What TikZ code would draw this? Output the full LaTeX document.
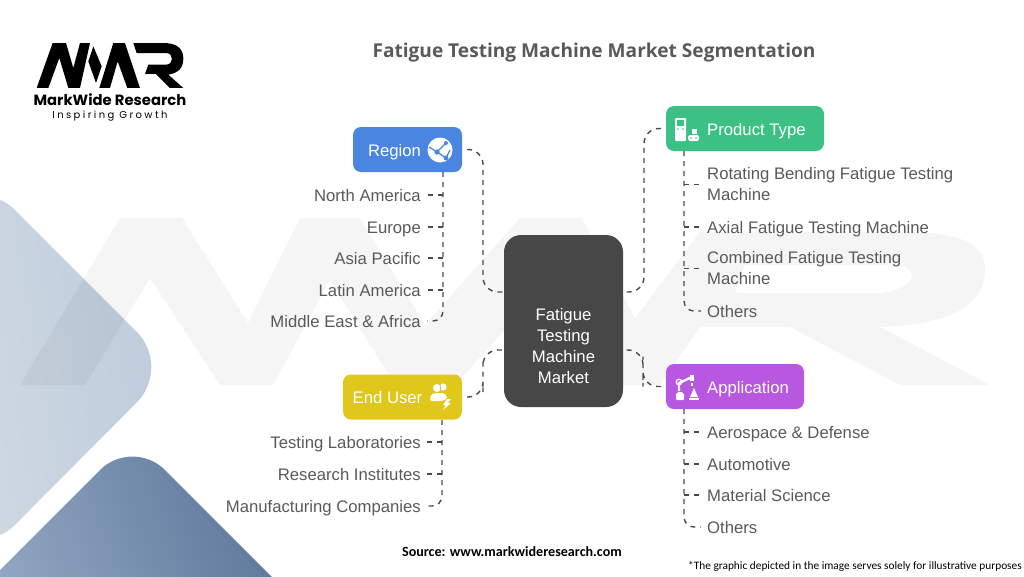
\documentclass[tikz,border=0pt]{standalone}
\usepackage{fontspec}
\setmainfont{Liberation Sans}
\newfontfamily\titlefont{Open Sans}
\newfontfamily\notefont{Carlito}
\newfontfamily\brandfont{Poppins}
\newfontfamily\taglinefont[LetterSpace=24]{Poppins}
\usetikzlibrary{positioning,calc}
\definecolor{hubgray}{HTML}{474747}
\definecolor{regionblue}{HTML}{4A86E0}
\definecolor{productgreen}{HTML}{3DC083}
\definecolor{useryellow}{HTML}{DFC71C}
\definecolor{applypurple}{HTML}{B857E0}
\definecolor{leafgray}{HTML}{595959}
\definecolor{linkgray}{HTML}{4A4A4A}
\tikzset{
	branchbox/.style={rounded corners=8pt, minimum height=45pt, inner sep=0pt, outer sep=0pt},
	branchtext/.style={text=white, inner sep=0pt, text height=15pt, text depth=3pt, font=\fontsize{16.7}{21}\selectfont},
	leafleft/.style={text=leafgray, anchor=east, inner sep=0pt, text height=15pt, text depth=3pt, font=\fontsize{16.7}{21}\selectfont},
	leafright/.style={text=leafgray, anchor=west, inner sep=0pt, text height=15pt, text depth=3pt, align=left, font=\fontsize{16.7}{21}\selectfont},
	leafwrap/.style={text height=, text depth=},
	linkline/.style={draw=linkgray, line width=1.4pt, dash pattern=on 5pt off 5pt},
	hublink/.style={linkline, rounded corners=15pt},
	trunkline/.style={linkline, rounded corners=10pt}
}
\newcommand{\leafleftitem}[4]{
	\node [leafleft] (#1) at (421,#3) {#4};
	\draw [linkline, shorten >=6pt] (#2 |- #1.east) -- (#1.east);
}
\newcommand{\leafrightitem}[5][]{
	\node [leafright, #1] (#2) at (707,#4) {#5};
	\draw [linkline, shorten >=6pt] (#3 |- #2.west) -- (#2.west);
}

\begin{document}
\begin{tikzpicture}[x=1pt,y=-1pt]
	\useasboundingbox (0,0) rectangle (1024,576);

	% corner shapes
	\shade [left color={rgb,255:red,206;green,216;blue,226}, right color={rgb,255:red,188;green,203;blue,219}, shading angle=100, rounded corners=50pt]
		(-20,175) -- (172,367) -- (-20,560) -- cycle;
	\shade [left color={rgb,255:red,146;green,167;blue,195}, right color={rgb,255:red,90;green,117;blue,152}, shading angle=110, rounded corners=46pt]
		(-40,610) -- (132.5,437.5) -- (305,610) -- cycle;

	% watermark
	\fill [black, opacity=.04]
		(20,385) -- (120,218) -- (182,218) -- (248,323) -- (300,218) -- (360,218) -- (425,325) -- (520,218) -- (582,218) -- (635,318) -- (700,232) -- (900,232) .. controls (965,232) and (985,245) .. (985,270) .. controls (985,305) and (950,325) .. (880,327) -- (990,385) -- (900,385) -- (790,327) -- (700,327) -- (660,385) -- (600,385) -- (550,280) -- (455,385) -- (395,385) -- (330,280) -- (273,385) -- (220,385) -- (150,278) -- (85,385) -- cycle
		(745,265) -- (735,293) -- (880,293) .. controls (915,290) and (925,265) .. (890,265) -- cycle;

	% logo
	\begin{scope}[shift={(30,38)},x=0.3333pt,y=-0.3333pt]
		\fill [black] (20,150) -- (55,150) -- (88,60) -- (115,150) -- (150,150) -- (180,15) -- (150,15) -- (130,90) -- (108,15) -- (68,15) -- cycle;
		\fill [black] (190,25) -- (215,85) -- (198,135) -- (175,70) -- cycle;
		\fill [black] (208,150) -- (240,150) -- (263,70) -- (292,150) -- (330,150) -- (285,15) -- (250,15) -- cycle;
		\fill [black] (310,15) -- (400,15) .. controls (445,15) and (460,35) .. (460,62) .. controls (460,90) and (445,105) .. (415,110) -- (460,150) -- (420,150) -- (378,108) -- (345,108) -- (355,80) -- (408,80) .. controls (432,80) and (432,45) .. (408,45) -- (320,45) -- cycle;
	\end{scope}
	\node [inner sep=0pt, text height=10pt, text depth=1pt] (brandname) at (110,101) {\brandfont\bfseries\fontsize{14.8}{16}\selectfont MarkWide Research};
	\node [inner sep=0pt, text height=8pt, text depth=1pt] (brandtag) at (110,115) {\taglinefont\fontsize{10}{12}\selectfont Inspiring Growth};

	% title and notes
	\node [inner sep=0pt, text=leafgray] (chartitle) at (594,53) {\titlefont\bfseries\fontsize{19.1}{24}\selectfont Fatigue Testing Machine Market Segmentation};
	\node [inner sep=0pt] (sourcenote) at (512,552) {\notefont\bfseries\fontsize{14.1}{16}\selectfont Source: www.markwideresearch.com};
	\node [inner sep=0pt, anchor=east] (imagenote) at (1022,566) {\notefont\fontsize{11.35}{14}\selectfont *The graphic depicted in the image serves solely for illustrative purposes};

	% hub
	\node [fill=hubgray, rounded corners=17pt, minimum width=119pt, minimum height=172pt, inner sep=0pt, outer sep=0pt, text=white, align=center, font=\fontsize{16.7}{21}\selectfont] (hub) at (563.5,321) {\\[42pt]Fatigue\\Testing\\Machine\\Market};
	\coordinate (hubnw) at (hub.west |- 0,292);
	\coordinate (hubsw) at (hub.west |- 0,350);
	\coordinate (hubne) at (hub.east |- 0,292);
	\coordinate (hubse) at (hub.east |- 0,350);

	% branches
	\node [branchbox, fill=regionblue, minimum width=109pt] (region) at (407.5,149.5) {};
	\node [branchtext] (regiontext) at (394.5,150) {Region};
	\node [branchbox, fill=productgreen, minimum width=158pt] (product) at (745,128.5) {};
	\node [branchtext, anchor=west] (producttext) at (707,129) {Product Type};
	\node [branchbox, fill=useryellow, minimum width=119pt] (enduser) at (402.5,397) {};
	\node [branchtext] (endusertext) at (387.5,397.5) {End User};
	\node [branchbox, fill=applypurple, minimum width=138pt] (application) at (735,386.5) {};
	\node [branchtext, anchor=west] (applicationtext) at (707,387) {Application};

	% hub links
	\draw [hublink, shorten <=5pt] (region.east) -| +(21,70) |- (hubnw);
	\draw [hublink, shorten <=5pt] (product.west) -| +(-22,90) |- (hubne);
	\draw [hublink, shorten <=5pt] (enduser.east) -| +(21,-20) |- (hubsw);
	\draw [hublink, shorten <=5pt] (application.west) -| +(-23,-15) |- (hubse);

	% region leaves
	\coordinate (regiontrunk) at (443,172);
	\leafleftitem{northamerica}{regiontrunk}{195}{North America}
	\leafleftitem{europe}{regiontrunk}{227}{Europe}
	\leafleftitem{asiapacific}{regiontrunk}{258}{Asia Pacific}
	\leafleftitem{latinamerica}{regiontrunk}{290}{Latin America}
	\node [leafleft] (mideast) at (421,321) {Middle East \& Africa};
	\draw [trunkline, shorten >=6pt] (regiontrunk) |- (mideast.east);

	% end user leaves
	\coordinate (usertrunk) at (442,420);
	\leafleftitem{testinglabs}{usertrunk}{442}{Testing Laboratories}
	\leafleftitem{institutes}{usertrunk}{474}{Research Institutes}
	\node [leafleft] (manufacturers) at (421,506) {Manufacturing Companies};
	\draw [trunkline, shorten >=6pt] (usertrunk) |- (manufacturers.east);

	% product leaves
	\coordinate (producttrunk) at (684,151);
	\leafrightitem[leafwrap]{rotating}{producttrunk}{184.5}{Rotating Bending Fatigue Testing\\Machine}
	\leafrightitem{axial}{producttrunk}{227}{Axial Fatigue Testing Machine}
	\leafrightitem[leafwrap]{combined}{producttrunk}{268.5}{Combined Fatigue Testing\\Machine}
	\node [leafright] (productothers) at (707,311) {Others};
	\draw [trunkline, shorten >=6pt] (producttrunk) |- (productothers.west);

	% application leaves
	\coordinate (applytrunk) at (684,409);
	\leafrightitem{aerospace}{applytrunk}{432}{Aerospace \& Defense}
	\leafrightitem{automotive}{applytrunk}{464}{Automotive}
	\leafrightitem{material}{applytrunk}{495}{Material Science}
	\node [leafright] (applyothers) at (707,527) {Others};
	\draw [trunkline, shorten >=6pt] (applytrunk) |- (applyothers.west);

	% icons
	\fill [white] (440,150) circle (12.5);
	\draw [regionblue, line width=1.3pt] (429,147) -- (437,152) -- (446,143) (437,152) -- (446,158) -- (450,150);
	\fill [regionblue] (437,152) circle (2.6) (446,143) circle (2) (446,158) circle (2.4);

	\fill [white, rounded corners=1pt] (675,118) rectangle (686,141);
	\fill [productgreen] (677,120) rectangle (684,126);
	\fill [productgreen] (678,129) circle (0.8) (683,129) circle (0.8);
	\fill [white] (692,129) rectangle (697,134);
	\fill [white, rounded corners=1.5pt] (688,135) rectangle (699,141);
	\fill [productgreen] (691,138) circle (0.8) (696,138) circle (0.8);

	\fill [white] (437,388) circle (4) (443,387) circle (3.6);
	\fill [white, rounded corners=2pt] (430,401) -- (431,394) -- (436,393) -- (444,393) -- (447,396) -- (447,399) -- (442,401) -- cycle;
	\draw [useryellow, line width=0.8pt] (440,384) -- (441,392);
	\fill [white] (447,399) -- (443,405) -- (446,405) -- (443,410) -- (451,403) -- (448,403) -- (451,399) -- cycle;

	\fill [white, rounded corners=1pt] (676,400) -- (676,394) -- (678,392) -- (682,392) -- (684,394) -- (684,400) -- cycle;
	\draw [white, line width=2.4pt] (679,391) -- (679,383) -- (690,378);
	\draw [white, line width=1.2pt] (679,382) circle (2.8);
	\fill [white] (690,375) rectangle (694,381);
	\fill [white] (691,383) rectangle (693,386);
	\fill [white] (694,388) -- (698,397) -- (690,397) -- cycle;
	\fill [white] (689,398) rectangle (699,400);
\end{tikzpicture}
\end{document}
